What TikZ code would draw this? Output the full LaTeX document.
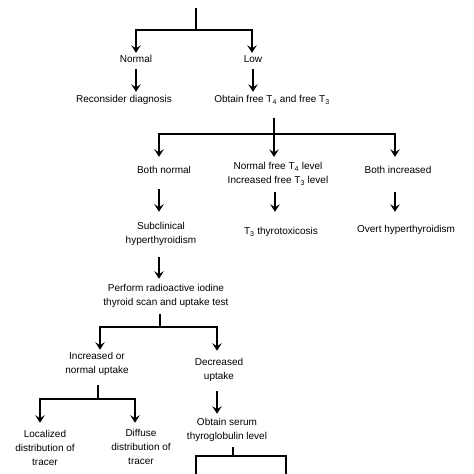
\documentclass[tikz,border=0pt]{standalone}
\usepackage{fontspec}
\setmainfont{Liberation Sans}
\usetikzlibrary{arrows.meta}
\begin{document}
\begin{tikzpicture}[x=1pt,y=-1pt,
  txt/.style={inner sep=0pt, align=center, font=\fontsize{10}{14}\selectfont},
  one/.style={txt, text height=7pt, text depth=2pt},
  ln/.style={line width=1.8pt, line join=miter},
  arr/.style={ln, -{Stealth[length=7.5pt,width=9.5pt,inset=3pt]}}]
\path[use as bounding box, clip] (0,0) rectangle (474,474);
% nodes
\node[one] (top) at (196,-2) {Obtain TSH level};
\node[one] (normal) at (136,60) {Normal};
\node[one] (low) at (253,60) {Low};
\node[one] (recon) at (124,100) {Reconsider diagnosis};
\node[one] (free) at (272,100) {Obtain free T\textsubscript{4} and free T\textsubscript{3}};
\node[one] (bn) at (164,171) {Both normal};
\node[txt] (mid) at (278,174) {Normal free T\textsubscript{4} level\\Increased free T\textsubscript{3} level};
\node[one] (bi) at (398,171) {Both increased};
\node[txt] (sub) at (161,234) {Subclinical\\hyperthyroidism};
\node[one] (t3) at (281,232) {T\textsubscript{3} thyrotoxicosis};
\node[one] (overt) at (406,230) {Overt hyperthyroidism};
\node[txt] (perf) at (166,296) {Perform radioactive iodine\\thyroid scan and uptake test};
\node[txt] (inc) at (97,364) {Increased or\\normal uptake};
\node[txt] (dec) at (219,370) {Decreased\\uptake};
\node[txt] (obt) at (227,430) {Obtain serum\\thyroglobulin level};
\node[txt] (loc) at (45,448) {Localized\\distribution of\\tracer};
\node[txt] (dif) at (141,447) {Diffuse\\distribution of\\tracer};
% junctions and free ends
\coordinate (j1) at (196,30);
\coordinate (j2) at (274,134);
\coordinate (j3) at (160,327);
\coordinate (j4) at (98,399);
\coordinate (j5) at (233,456);
\coordinate (e1) at (196,482);
\coordinate (e2) at (286,482);
% connectors
\draw[ln, shorten <=5.5pt] (top.south) -- (j1);
\draw[arr, shorten >=2.5pt] (j1) -| (normal.north);
\draw[arr, shorten >=2.5pt] (j1) -| ([xshift=-1pt]low.north);
\draw[arr, shorten <=4.5pt, shorten >=3.5pt] (normal.south) -- (normal.south |- recon.north);
\draw[arr, shorten <=4.5pt, shorten >=3.5pt] (low.south) -- (low.south |- free.north);
\draw[ln, shorten <=13pt] (free.south -| j2) -- (j2);
\draw[arr, shorten >=9.5pt] (j2) -| ([xshift=-5pt]bn.north);
\draw[arr, shorten >=5.5pt] (j2) -- (j2 |- mid.north);
\draw[arr, shorten >=9.5pt] (j2) -| ([xshift=-3pt]bi.north);
\draw[arr, shorten <=13.5pt, shorten >=10.4pt] ([xshift=-5pt]bn.south) -- ([xshift=-5pt]bn.south |- sub.north);
\draw[arr, shorten <=6.4pt, shorten >=15.5pt] ([xshift=-3pt]mid.south) -- ([xshift=-3pt]mid.south |- t3.north);
\draw[arr, shorten <=16.5pt, shorten >=13.5pt] ([xshift=-3pt]bi.south) -- ([xshift=-3pt]bi.south |- overt.north);
\draw[arr, shorten <=11.4pt, shorten >=5.4pt] ([xshift=-2pt]sub.south) -- ([xshift=-2pt]sub.south |- perf.north);
\draw[ln, shorten <=6.4pt] (perf.south -| j3) -- (j3);
\draw[arr, shorten >=2.4pt] (j3) -| ([xshift=3pt]inc.north);
\draw[arr, shorten >=7.4pt] (j3) -| ([xshift=-2pt]dec.north);
\draw[ln, shorten <=9.4pt] (inc.south -| j4) -- (j4);
\draw[arr, shorten >=7.4pt] (j4) -| ([xshift=-5pt]loc.north);
\draw[arr, shorten >=6.4pt] (j4) -| ([xshift=-6pt]dif.north);
\draw[arr, shorten <=9.3pt, shorten >=4.4pt] ([xshift=-2pt]dec.south) -- ([xshift=-2pt]dec.south |- obt.north);
\draw[ln, shorten <=5.3pt] (obt.south -| j5) -- (j5);
\draw[arr] (j5) -| (e1);
\draw[arr] (j5) -| (e2);
\end{tikzpicture}
\end{document}
